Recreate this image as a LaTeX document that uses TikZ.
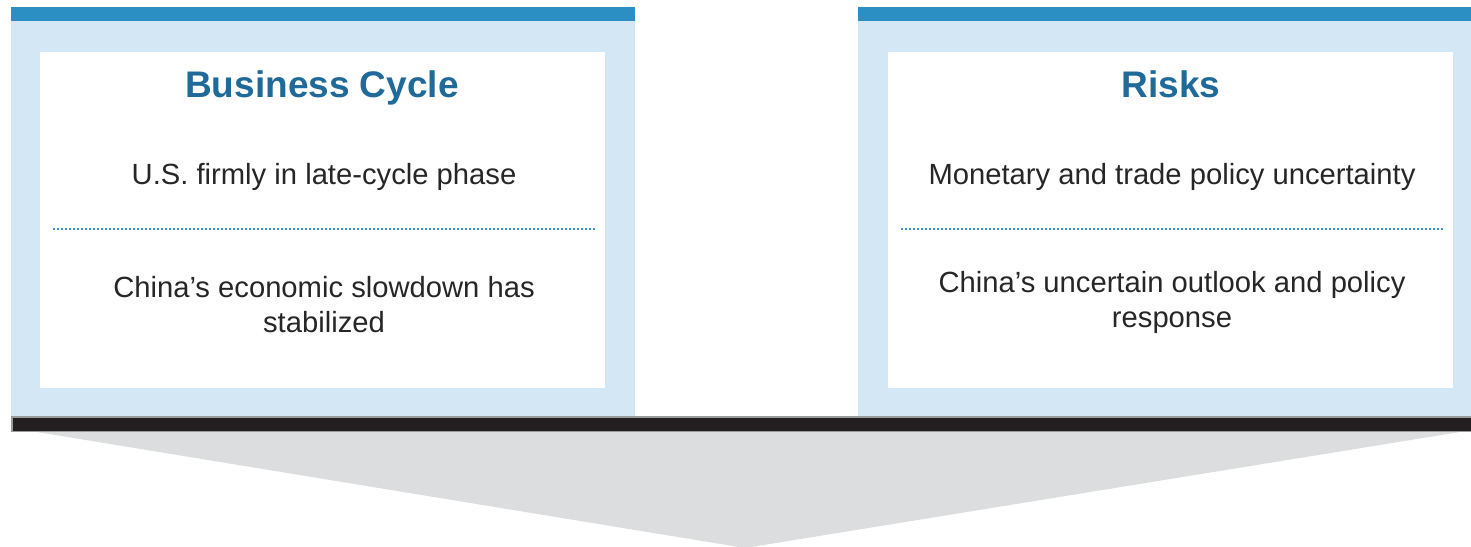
\documentclass[tikz,border=0pt]{standalone}
\usepackage{fontspec}
\setmainfont{Liberation Sans}
\definecolor{topblue}{HTML}{2B8FC4}
\definecolor{paleblue}{HTML}{D3E7F4}
\definecolor{titleblue}{HTML}{1F6A99}
\definecolor{dotblue}{HTML}{3D91C6}
\definecolor{chevgrey}{HTML}{DCDDDF}
\definecolor{barblack}{HTML}{231F20}
\definecolor{bargrey}{HTML}{9A9B9D}
\begin{document}
\begin{tikzpicture}[x=1pt,y=-1pt]
        \tikzstyle{title_style} = [anchor=base,inner sep=0pt,text=titleblue,font=\fontsize{37}{42}\selectfont\bfseries]
        \tikzstyle{body_style} = [anchor=base,inner sep=0pt,align=center,text=black!85,font=\fontsize{29.2}{35}\selectfont]
        \tikzstyle{dot_style} = [draw=dotblue,line width=2pt,dash pattern=on 2pt off 2pt]
        \useasboundingbox (0,0) rectangle (1471,546);
        % chevron and bar
        \fill[chevgrey] (37,432) -- (1460,432) -- (745,548) -- cycle;
        \filldraw[fill=barblack,draw=bargrey,line width=1.5pt] (11.75,417) rectangle (1472,431.5);
        % left panel
        \fill[topblue] (11,7) rectangle (635,21);
        \fill[paleblue] (11,21) rectangle (635,416);
        \fill[white] (40,52) rectangle (605,388);
        \draw[dot_style] (53,229) -- (595,229);
        \node[title_style] (cycle_title) at (322,97) {Business Cycle};
        \node[body_style] (cycle_us) at (324,184) {U.S. firmly in late-cycle phase};
        \node[body_style] (cycle_china) at (324,332) {China’s economic slowdown has\\stabilized};
        % right panel
        \fill[topblue] (858,7) rectangle (1471,21);
        \fill[paleblue] (858,21) rectangle (1471,416);
        \fill[white] (888,52) rectangle (1453,388);
        \draw[dot_style] (901,229) -- (1443,229);
        \node[title_style] (risk_title) at (1171,97) {Risks};
        \node[body_style] (risk_policy) at (1172,184) {Monetary and trade policy uncertainty};
        \node[body_style] (risk_china) at (1172,327) {China’s uncertain outlook and policy\\response};
      \end{tikzpicture}
\end{document}
